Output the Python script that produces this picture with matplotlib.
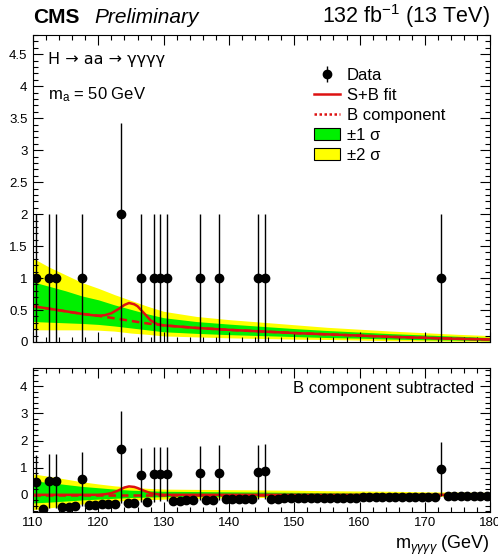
import numpy as np
import matplotlib
matplotlib.use("Agg")
import matplotlib.pyplot as plt
from matplotlib.patches import Patch
from matplotlib.lines import Line2D
from matplotlib.ticker import MultipleLocator

plt.rcParams["font.family"] = ["Liberation Sans", "DejaVu Sans"]
plt.rcParams["mathtext.fontset"] = "custom"
plt.rcParams["mathtext.rm"] = "Liberation Sans"
plt.rcParams["mathtext.it"] = "Liberation Sans:italic"

# 1 GeV bins, 110-180
BIN_EDGES = (110, 180)
COUNTS = [1, 0, 1, 1, 0, 0, 0, 1, 0, 0,
          0, 0, 0, 2, 0, 0, 1, 0, 1, 1,
          1, 0, 0, 0, 0, 1, 0, 0, 1, 0,
          0, 0, 0, 0, 1, 1, 0, 0, 0, 0,
          0, 0, 0, 0, 0, 0, 0, 0, 0, 0,
          0, 0, 0, 0, 0, 0, 0, 0, 0, 0,
          0, 0, 1, 0, 0, 0, 0, 0, 0, 0]
ERR_DN = {1: 1.0, 2: 2.0}
ERR_UP = {1: 1.0, 2: 1.42}

# data minus B component (lower panel)
RESID = [0.46, -0.51, 0.50, 0.52, -0.45, -0.44, -0.43, 0.59, -0.37, -0.36,
         -0.35, -0.34, -0.33, 1.68, -0.30, -0.29, 0.73, -0.27, 0.75, 0.76,
         0.77, -0.22, -0.22, -0.21, -0.21, 0.80, -0.19, -0.19, 0.82, -0.17,
         -0.17, -0.16, -0.16, -0.16, 0.85, 0.86, -0.14, -0.14, -0.13, -0.13,
         -0.13, -0.12, -0.12, -0.12, -0.11, -0.11, -0.11, -0.10, -0.10, -0.10,
         -0.09, -0.09, -0.09, -0.09, -0.08, -0.08, -0.08, -0.08, -0.07, -0.07,
         -0.07, -0.07, 0.95, -0.06, -0.06, -0.06, -0.06, -0.05, -0.05, -0.05]

# fit curves / bands (upper panel)
BAND_X = [110, 112.5, 115, 117.5, 120, 122.5, 125, 127.5, 130, 135,
          140, 145, 150, 155, 160, 165, 170, 175, 180]
B_FIT = [0.56, 0.52, 0.48, 0.44, 0.41, 0.37, 0.33, 0.29, 0.26, 0.22,
         0.19, 0.165, 0.14, 0.12, 0.10, 0.08, 0.065, 0.05, 0.04]
G_HI = [0.94, 0.87, 0.80, 0.72, 0.66, 0.58, 0.51, 0.44, 0.38, 0.32,
        0.28, 0.245, 0.21, 0.18, 0.155, 0.13, 0.11, 0.09, 0.07]
Y_HI = [1.31, 1.17, 1.05, 0.93, 0.84, 0.74, 0.65, 0.56, 0.48, 0.40,
        0.35, 0.31, 0.27, 0.23, 0.20, 0.17, 0.145, 0.12, 0.10]
G_LO = [0.32, 0.31, 0.30, 0.29, 0.275, 0.25, 0.22, 0.19, 0.16, 0.135,
        0.115, 0.10, 0.085, 0.07, 0.06, 0.045, 0.035, 0.03, 0.02]
Y_LO = [0.19, 0.19, 0.19, 0.19, 0.185, 0.17, 0.14, 0.12, 0.095, 0.08,
        0.065, 0.055, 0.045, 0.04, 0.03, 0.02, 0.015, 0.012, 0.01]

SB_X = [110, 112.5, 115, 117.5, 119, 120, 121, 122, 123, 124, 124.7, 125.5,
        126, 127, 128, 129, 130, 135, 140, 145, 150, 155, 160, 165, 170, 175, 180]
SB_Y = [0.56, 0.52, 0.48, 0.44, 0.42, 0.41, 0.42, 0.45, 0.51, 0.58, 0.61, 0.59,
        0.56, 0.45, 0.34, 0.28, 0.26, 0.22, 0.19, 0.165, 0.14, 0.12, 0.10, 0.08,
        0.065, 0.05, 0.04]

# lower panel bands / signal
LG_HI = [0.52, 0.45, 0.38, 0.31, 0.26, 0.21, 0.17, 0.15, 0.13, 0.12,
         0.11, 0.10, 0.09, 0.08, 0.07, 0.065, 0.06, 0.055, 0.05]
LY_HI = [0.77, 0.68, 0.58, 0.48, 0.40, 0.33, 0.28, 0.24, 0.21, 0.20,
         0.19, 0.18, 0.17, 0.15, 0.14, 0.13, 0.11, 0.10, 0.09]
LG_LO = [-0.30, -0.27, -0.23, -0.19, -0.16, -0.13, -0.10, -0.085, -0.07, -0.06,
         -0.055, -0.05, -0.045, -0.04, -0.035, -0.03, -0.03, -0.025, -0.025]
LY_LO = [-0.55, -0.48, -0.41, -0.34, -0.29, -0.24, -0.20, -0.18, -0.16, -0.13,
         -0.11, -0.10, -0.09, -0.08, -0.07, -0.06, -0.055, -0.05, -0.05]
S_X = [110, 120, 121, 122, 123, 124, 124.7, 125.5, 126, 127, 128, 129, 130, 180]
S_Y = [0.0, 0.0, 0.02, 0.06, 0.15, 0.27, 0.31, 0.29, 0.25, 0.15, 0.06, 0.02, 0.0, 0.0]

GREEN = "#00f000"
YELLOW = "#ffff00"
RED = "#dd1111"

x = np.arange(BIN_EDGES[0] + 0.5, BIN_EDGES[1], 1.0)
counts = np.array(COUNTS)
resid = np.array(RESID)
nz = counts > 0
dn = [ERR_DN[c] for c in counts[nz]]
up = [ERR_UP[c] for c in counts[nz]]

fig = plt.figure(figsize=(4.98, 5.57), dpi=100)
ax1 = fig.add_axes([0.0663, 0.386, 0.918, 0.551])
ax2 = fig.add_axes([0.0663, 0.081, 0.918, 0.258])

# ---- upper panel ----
ax1.fill_between(BAND_X, Y_LO, Y_HI, color=YELLOW, lw=0)
ax1.fill_between(BAND_X, G_LO, G_HI, color=GREEN, lw=0)
ax1.plot(BAND_X, B_FIT, color=RED, lw=1.8, ls=(0, (3, 2)))
ax1.plot(SB_X, SB_Y, color=RED, lw=1.8)
eb = ax1.errorbar(x[nz], counts[nz], yerr=[dn, up], fmt="o", color="k",
                  ms=6, elinewidth=1, capsize=0)
ax1.set_xlim(*BIN_EDGES)
ax1.set_ylim(0, 4.8)
ax1.yaxis.set_minor_locator(MultipleLocator(0.1))
ax1.set_yticks([0, 0.5, 1, 1.5, 2, 2.5, 3, 3.5, 4, 4.5])
ax1.set_yticklabels(["0", "0.5", "1", "1.5", "2", "2.5", "3", "3.5", "4", "4.5"])
ax1.tick_params(labelbottom=False)

handles = [eb,
           Line2D([], [], color=RED, lw=1.8),
           Line2D([], [], color=RED, lw=1.8, ls=(0, (1, 1))),
           Patch(facecolor=GREEN, edgecolor="k", lw=0.8),
           Patch(facecolor=YELLOW, edgecolor="k", lw=0.8)]
labels = ["Data", "S+B fit", "B component", "\u00b11 \u03c3", "\u00b12 \u03c3"]
ax1.legend(handles, labels, loc="upper left", bbox_to_anchor=(0.63, 0.878),
           bbox_transform=fig.transFigure, frameon=False, fontsize=12,
           handlelength=1.6, handletextpad=0.4, labelspacing=0.3,
           borderpad=0, borderaxespad=0)

ax1.text(0.033, 0.945, "H \u2192 aa \u2192 \u03b3\u03b3\u03b3\u03b3", transform=ax1.transAxes,
         fontsize=11.5, va="top", family=["DejaVu Sans"])
ax1.text(0.033, 0.835, r"m$_{\mathregular{a}}$ = 50 GeV", transform=ax1.transAxes,
         fontsize=12, va="top")

# ---- lower panel ----
ax2.fill_between(BAND_X, LY_LO, LY_HI, color=YELLOW, lw=0)
ax2.fill_between(BAND_X, LG_LO, LG_HI, color=GREEN, lw=0)
ax2.axhline(0, color=RED, lw=1.8, ls=(0, (3, 2)))
ax2.plot(S_X, S_Y, color=RED, lw=1.8)
ax2.errorbar(x[nz], resid[nz], yerr=[dn, up], fmt="o", color="k",
             ms=6, elinewidth=1, capsize=0)
ax2.plot(x[~nz], resid[~nz], "o", color="k", ms=6)
ax2.set_xlim(*BIN_EDGES)
ax2.set_ylim(-0.63, 4.67)
ax2.yaxis.set_major_locator(MultipleLocator(1))
ax2.yaxis.set_minor_locator(MultipleLocator(0.2))
ax2.text(0.965, 0.91, "B component subtracted", transform=ax2.transAxes,
         fontsize=12, ha="right", va="top")
ax2.set_xlabel(r"m$_{\gamma\gamma\gamma\gamma}$ (GeV)", fontsize=13, loc="right",
               labelpad=3)

for ax in (ax1, ax2):
    ax.xaxis.set_major_locator(MultipleLocator(10))
    ax.xaxis.set_minor_locator(MultipleLocator(2))
    ax.tick_params(which="both", direction="in", top=True, right=True,
                   labelsize=9.5, width=0.8, pad=4)
    ax.tick_params(which="major", length=7)
    ax.tick_params(which="minor", length=3.5)
    for s in ax.spines.values():
        s.set_linewidth(0.8)

fig.text(0.0663, 0.958, "CMS", fontsize=15, fontweight="bold", va="baseline")
fig.text(0.19, 0.958, "Preliminary", fontsize=15, style="italic", va="baseline")
fig.text(0.984, 0.958, r"132 fb$^{-1}$ (13 TeV)", fontsize=15.5, ha="right",
         va="baseline")

fig.savefig("out.png", dpi=100)
